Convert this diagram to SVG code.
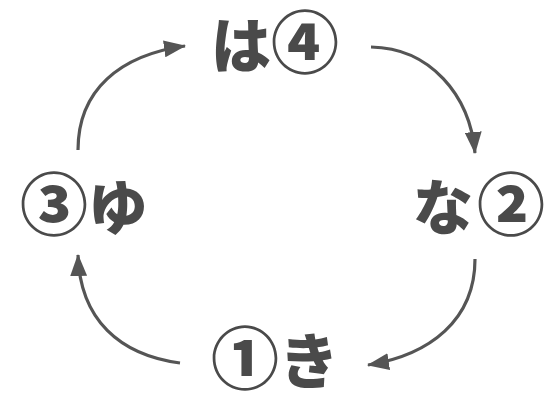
<svg xmlns="http://www.w3.org/2000/svg" width="560" height="394" viewBox="0 0 560 394">
<style>
.lbl{font-family:"Noto Sans CJK JP","Noto Sans CJK SC",sans-serif;font-weight:900;font-size:60px;fill:#4a4a4a}
.num{font-size:68px;font-weight:900}
.arr{fill:none;stroke:#555;stroke-width:3.2}
</style>
<defs>
<marker id="ah" viewBox="0 0 22 17" refX="21" refY="8.5" markerWidth="22" markerHeight="17" markerUnits="userSpaceOnUse" orient="auto">
<path d="M0,0 L22,8.5 L0,17 Z" fill="#555"/>
</marker>
</defs>
<rect width="560" height="394" fill="#fff"/>
<g id="connectors">
<path class="arr" d="M78,150 C78,90 120,55 185,46" marker-end="url(#ah)"/>
<path class="arr" d="M371,47 C430,48 470,95 475,153" marker-end="url(#ah)"/>
<path class="arr" d="M475,259 C475,320 430,355 368,365" marker-end="url(#ah)"/>
<path class="arr" d="M180,363 C120,355 80,320 78,255" marker-end="url(#ah)"/>
</g>
<g id="node-ha4"><text class="lbl" x="211" y="68">は<tspan class="num">④</tspan></text></g>
<g id="node-na2"><text class="lbl" x="413" y="230">な<tspan class="num" dx="4">②</tspan></text></g>
<g id="node-yu3"><text class="lbl" x="20" y="230"><tspan class="num">③</tspan>ゆ</text></g>
<g id="node-ki1"><text class="lbl" x="211" y="384"><tspan class="num">①</tspan>き</text></g>
</svg>
